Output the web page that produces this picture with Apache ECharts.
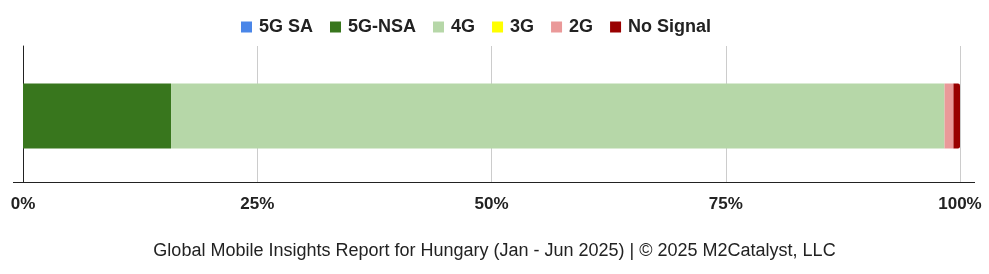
<!DOCTYPE html>
<html><head><meta charset="utf-8">
<script src="https://cdn.jsdelivr.net/npm/echarts@6/dist/echarts.min.js"></script>
<style>html,body{margin:0;padding:0;background:#fff}#c{width:989px;height:274px}</style>
</head><body><div id="c"></div>
<script>
const categories = ['Hungary'];
const seriesNames = ['5G SA', '5G-NSA', '4G', '3G', '2G', 'No Signal'];
const seriesColors = ['#4a86e8', '#38761d', '#b6d7a8', '#ffff00', '#ea9999', '#990000'];
const values5GSA = [0];
const values5GNSA = [15.8];
const values4G = [82.55];
const values3G = [0];
const values2G = [0.95];
const valuesNoSignal = [0.7];
const tickValues = [0, 25, 50, 75, 100];
const titleText = 'Global Mobile Insights Report for Hungary (Jan - Jun 2025) | © 2025 M2Catalyst, LLC';

const allValues = [values5GSA, values5GNSA, values4G, values3G, values2G, valuesNoSignal];
const chart = echarts.init(document.getElementById('c'), null, {renderer: 'canvas'});
// invisible spacer stack placed first so the visible bar sits slightly lower in its band
const series = [{
  name: '_spacer', type: 'bar', stack: 'spacer', barWidth: 4, barGap: '0%',
  data: categories.map(() => 0), itemStyle: {color: 'rgba(0,0,0,0)'}, silent: true
}].concat(seriesNames.map((n, i) => ({
  name: n, type: 'bar', stack: 'total', barWidth: 65, barGap: '0%',
  itemStyle: {color: seriesColors[i], borderRadius: i === seriesNames.length - 1 ? [0, 2, 2, 0] : 0},
  data: allValues[i], emphasis: {disabled: true}
})));
chart.setOption({
  animation: false,
  textStyle: {fontFamily: 'Liberation Sans, Arial, sans-serif'},
  legend: {
    top: 13, left: 236, itemWidth: 11, itemHeight: 11, itemGap: 17,
    icon: 'rect',
    textStyle: {fontSize: 18, fontWeight: 'bold', color: '#222', padding: [0, 0, 0, 2]},
    data: seriesNames
  },
  title: {
    text: titleText, left: 'center', top: 237,
    textStyle: {fontSize: 18, fontWeight: 'normal', color: '#222'}
  },
  grid: {left: 23, right: 29, top: 46, height: 136, containLabel: false},
  xAxis: {
    type: 'value', min: 0, max: 100, interval: 25,
    axisLine: {show: false}, axisTick: {show: false},
    splitLine: {show: true, lineStyle: {color: '#cccccc'}},
    axisLabel: {formatter: v => v + '%', fontSize: 17, fontWeight: 'bold', color: '#222', margin: 14,
      customValues: tickValues}
  },
  yAxis: {
    type: 'category', data: categories,
    axisLine: {show: true, lineStyle: {color: '#222'}}, axisTick: {show: false}, axisLabel: {show: false}
  },
  graphic: [{type: 'line', shape: {x1: 13, y1: 182.5, x2: 975, y2: 182.5}, style: {stroke: '#222', lineWidth: 1}}],
  series: series
});
</script></body></html>
